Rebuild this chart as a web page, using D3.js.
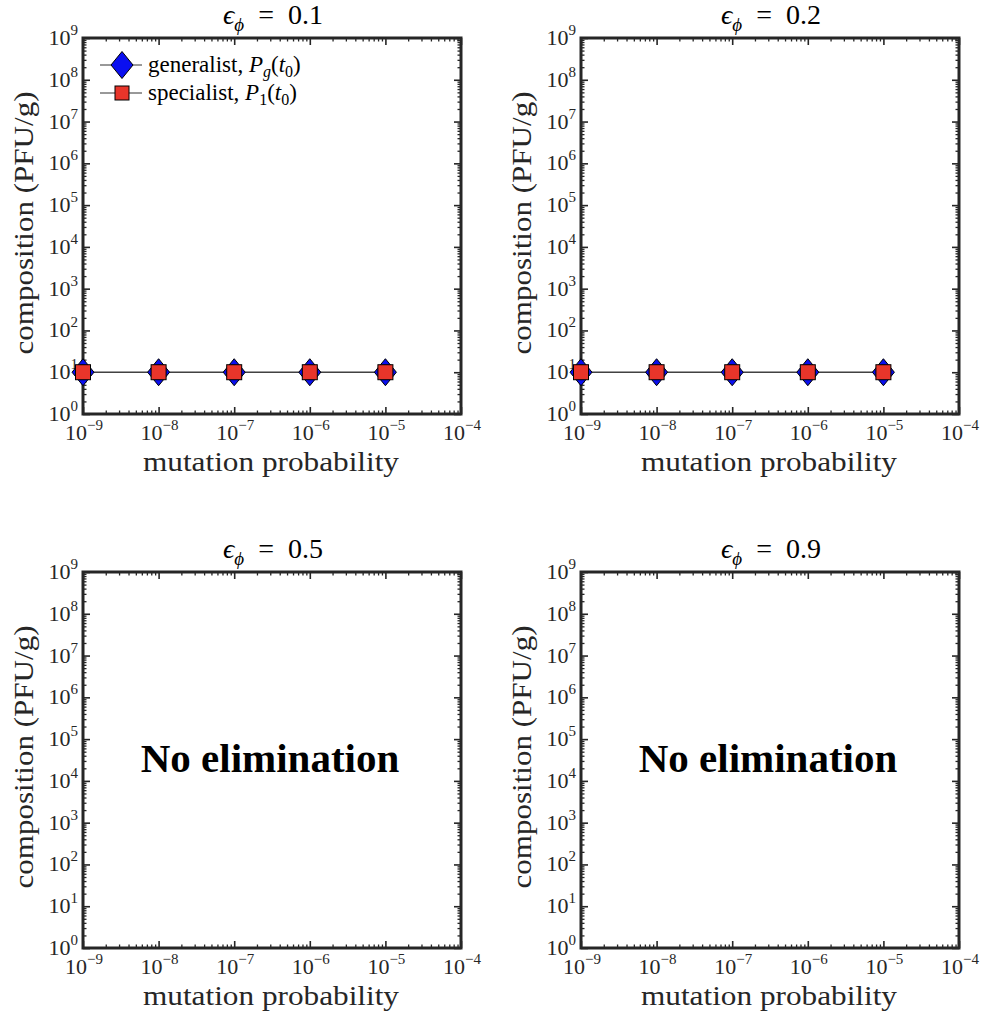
<!DOCTYPE html>
<html><head><meta charset="utf-8">
<script src="https://cdn.jsdelivr.net/npm/d3@7"></script>
<style>
html,body{margin:0;padding:0;background:#fff;}
svg{display:block;}
text{font-family:"Liberation Serif","Times New Roman",serif;}
</style></head>
<body><svg id="chart" width="982" height="1017"></svg>
<script>
// ---- data ----
const epsValues = ["0.1", "0.2", "0.5", "0.9"];
const mutationProbability = [1e-9, 1e-8, 1e-7, 1e-6, 1e-5];
const generalist_eps01 = [10, 10, 10, 10, 10];
const specialist_eps01 = [10, 10, 10, 10, 10];
const generalist_eps02 = [10, 10, 10, 10, 10];
const specialist_eps02 = [10, 10, 10, 10, 10];
const generalist_eps05 = [];
const specialist_eps05 = [];
const generalist_eps09 = [];
const specialist_eps09 = [];
const xTickExponents = [-9, -8, -7, -6, -5, -4];
const yTickExponents = [0, 1, 2, 3, 4, 5, 6, 7, 8, 9];
const seriesNames = ["generalist", "specialist"];
const annotationText = "No elimination";

const panelsData = [
  {eps: epsValues[0], gen: generalist_eps01, spec: specialist_eps01, legend: true},
  {eps: epsValues[1], gen: generalist_eps02, spec: specialist_eps02},
  {eps: epsValues[2], gen: generalist_eps05, spec: specialist_eps05, note: annotationText},
  {eps: epsValues[3], gen: generalist_eps09, spec: specialist_eps09, note: annotationText}
];

// ---- layout ----
const svg = d3.select("#chart");
const W = 378, H = 376;
const origins = [[83, 38], [581, 38], [83, 572], [581, 572]];
const dark = "#262626";
const blue = "#0a0ff0";
const red = "#e8352a";

const xs = d3.scaleLog().domain([1e-9, 1e-4]).range([0, W]);
const ys = d3.scaleLog().domain([1, 1e9]).range([H, 0]);

const majorX = xTickExponents.map(e => Math.pow(10, e));
const majorY = yTickExponents.map(e => Math.pow(10, e));
const minorX = [], minorY = [];
for (let e = -9; e < -4; e++) for (let m = 2; m <= 9; m++) minorX.push(m * Math.pow(10, e));
for (let e = 0; e < 9; e++) for (let m = 2; m <= 9; m++) minorY.push(m * Math.pow(10, e));

function diamondPath(cx, cy, hw, hh) {
  return `M${cx},${cy - hh}L${cx + hw},${cy}L${cx},${cy + hh}L${cx - hw},${cy}Z`;
}

panelsData.forEach((p, i) => {
  const [ox, oy] = origins[i];
  const g = svg.append("g").attr("transform", `translate(${ox},${oy})`);

  // ticks via d3 axes (inward)
  const axes = [
    [d3.axisBottom(xs), `translate(0,${H})`, majorX, minorX],
    [d3.axisTop(xs), `translate(0,0)`, majorX, minorX],
    [d3.axisLeft(ys), `translate(0,0)`, majorY, minorY],
    [d3.axisRight(ys), `translate(${W},0)`, majorY, minorY]
  ];
  axes.forEach(([ax, tr, maj, min]) => {
    const gMin = g.append("g").attr("transform", tr)
      .call(ax.tickValues(min).tickSize(-3.5).tickFormat(() => ""));
    gMin.select(".domain").remove();
    gMin.selectAll("line").attr("stroke", dark).attr("stroke-width", 1.3);
    const gMaj = g.append("g").attr("transform", tr)
      .call(ax.tickValues(maj).tickSize(-7).tickFormat(() => ""));
    gMaj.select(".domain").remove();
    gMaj.selectAll("line").attr("stroke", dark).attr("stroke-width", 1.6);
  });

  // box
  g.append("rect").attr("x", 0).attr("y", 0).attr("width", W).attr("height", H)
    .attr("fill", "none").attr("stroke", dark).attr("stroke-width", 3);

  // x tick labels
  xTickExponents.forEach((e, k) => {
    const t = g.append("text").attr("x", xs(majorX[k]) + 1).attr("y", H + 26)
      .attr("text-anchor", "middle").attr("fill", dark).attr("font-size", 22);
    t.append("tspan").text("10");
    t.append("tspan").attr("dy", -10).attr("font-size", 15).text("\u2212" + Math.abs(e));
  });
  // y tick labels
  yTickExponents.forEach((e, k) => {
    const t = g.append("text").attr("x", -5).attr("y", ys(majorY[k]) + 7)
      .attr("text-anchor", "end").attr("fill", dark).attr("font-size", 22);
    t.append("tspan").text("10");
    t.append("tspan").attr("dy", -10).attr("font-size", 15).text(String(e));
  });

  // axis labels
  g.append("text").attr("x", W / 2 - 1).attr("y", H + 57).attr("text-anchor", "middle")
    .attr("fill", dark).attr("font-size", 27).attr("textLength", 256)
    .attr("lengthAdjust", "spacingAndGlyphs").text("mutation probability");
  g.append("text").attr("transform", `translate(-50,${H / 2 - 3}) rotate(-90)`)
    .attr("text-anchor", "middle").attr("fill", dark).attr("font-size", 27)
    .attr("textLength", 263).attr("lengthAdjust", "spacingAndGlyphs")
    .text("composition (PFU/g)");

  // title
  const tt = g.append("text").attr("x", W / 2 + 1).attr("y", -14).attr("text-anchor", "middle")
    .attr("fill", "#000").attr("font-size", 28);
  tt.append("tspan").attr("font-style", "italic").text("\u03F5");
  tt.append("tspan").attr("dy", 7).attr("font-size", 19).attr("font-style", "italic").text("\u03D5");
  tt.append("tspan").attr("dy", -7).text("\u2002=\u2002" + p.eps);

  // data
  const line = d3.line().x(d => xs(d[0])).y(d => ys(d[1]));
  const genPts = p.gen.map((v, k) => [mutationProbability[k], v]);
  const specPts = p.spec.map((v, k) => [mutationProbability[k], v]);
  [genPts, specPts].forEach(pts => {
    if (pts.length) g.append("path").datum(pts).attr("d", line)
      .attr("fill", "none").attr("stroke", "#333").attr("stroke-width", 1);
  });
  g.selectAll(".gen").data(genPts).enter().append("path").attr("class", "gen")
    .attr("d", d => diamondPath(xs(d[0]), ys(d[1]), 11, 13.5))
    .attr("fill", blue).attr("stroke", "#000").attr("stroke-width", 1);
  g.selectAll(".spec").data(specPts).enter().append("rect").attr("class", "spec")
    .attr("x", d => xs(d[0]) - 7.5).attr("y", d => ys(d[1]) - 7.5)
    .attr("width", 15).attr("height", 15)
    .attr("fill", red).attr("stroke", "#000").attr("stroke-width", 1);

  // legend
  if (p.legend) {
    const lg = g.append("g");
    const rows = [27, 55];
    rows.forEach((ry, r) => {
      lg.append("line").attr("x1", 17).attr("x2", 59).attr("y1", ry).attr("y2", ry)
        .attr("stroke", "#333").attr("stroke-width", 1);
      if (r === 0) {
        lg.append("path").attr("d", diamondPath(39, ry, 11, 13.5))
          .attr("fill", blue).attr("stroke", "#000").attr("stroke-width", 1);
      } else {
        lg.append("rect").attr("x", 32).attr("y", ry - 7).attr("width", 14).attr("height", 14)
          .attr("fill", red).attr("stroke", "#000").attr("stroke-width", 1);
      }
      const t = lg.append("text").attr("x", 65).attr("y", ry + 7).attr("font-size", 23).attr("fill", "#000");
      t.append("tspan").text(seriesNames[r] + ", ");
      t.append("tspan").attr("font-style", "italic").text("P");
      t.append("tspan").attr("dy", 5).attr("font-size", 16).attr("font-style", r === 0 ? "italic" : "normal").text(r === 0 ? "g" : "1");
      t.append("tspan").attr("dy", -5).text("(");
      t.append("tspan").attr("font-style", "italic").text("t");
      t.append("tspan").attr("dy", 5).attr("font-size", 16).text("0");
      t.append("tspan").attr("dy", -5).text(")");
    });
  }

  if (p.note) {
    g.append("text").attr("x", W / 2 - 2).attr("y", 200).attr("text-anchor", "middle")
      .attr("font-weight", "bold").attr("font-size", 41).attr("fill", "#000").text(p.note);
  }
});
</script></body></html>
